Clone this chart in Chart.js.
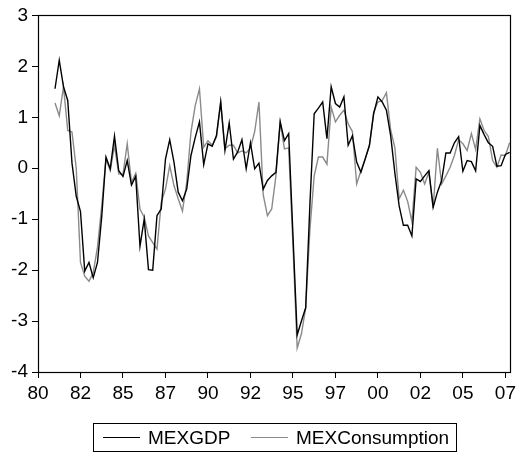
<!DOCTYPE html>
<html>
<head>
<meta charset="utf-8">
<script src="https://cdn.jsdelivr.net/npm/chart.js@4/dist/chart.umd.min.js"></script>
<style>
  html, body { margin: 0; padding: 0; background: #fff; }
  #wrap { position: relative; width: 520px; height: 455px; }
  #legend {
    position: absolute; left: 93px; top: 423px; width: 364px; height: 29px;
    border: 1px solid #000; box-sizing: border-box;
    font-family: "Liberation Sans", Arial, sans-serif; font-size: 19px; color: #000;
  }
  .item { position: absolute; top: 0; height: 27px; line-height: 27px; white-space: nowrap; }
  .swatch { position: absolute; top: 13px; width: 37px; height: 0; }
  .name { position: absolute; top: 0; }
</style>
</head>
<body>
<div id="wrap">
  <canvas id="c" width="520" height="455"></canvas>
  <div id="legend"></div>
</div>
<script>
// Quarterly observations, 1980Q1 .. 2007Q4
const startYear = 1980;
const quarters = [];
for (let y = startYear; y <= 2007; y++) {
  for (let q = 1; q <= 4; q++) quarters.push(y + 'Q' + q);
}

// Labels shown every 10 observations along the time axis
const xTickLabels = ['80', '82', '85', '87', '90', '92', '95', '97', '00', '02', '05', '07'];
const yTicks = [-4, -3, -2, -1, 0, 1, 2, 3];

const seriesNames = ['MEXGDP', 'MEXConsumption'];

const mexGDP = [
  null, null, null, null,
  1.56, 2.12, 1.60, 1.33, 0.10, -0.55, -0.85, -2.02,
  -1.85, -2.15, -1.85, -0.95, 0.22, -0.01, 0.63, -0.05,
  -0.16, 0.15, -0.33, -0.16, -1.53, -1.00, -1.99, -2.00,
  -0.93, -0.80, 0.18, 0.56, 0.12, -0.47, -0.64, -0.41,
  0.25, 0.60, 0.91, 0.07, 0.48, 0.43, 0.64, 1.30,
  0.35, 0.89, 0.18, 0.32, 0.56, -0.01, 0.50, -0.01,
  0.10, -0.41, -0.24, -0.15, -0.08, 0.91, 0.54, 0.68,
  -1.30, -3.27, -3.00, -2.74, -0.70, 1.07, 1.18, 1.30,
  0.58, 1.60, 1.27, 1.20, 1.40, 0.45, 0.64, 0.12,
  -0.08, 0.18, 0.45, 1.07, 1.40, 1.30, 1.14, 0.64,
  -0.10, -0.74, -1.12, -1.12, -1.33, -0.21, -0.26, -0.15,
  -0.05, -0.77, -0.47, -0.24, 0.30, 0.30, 0.50, 0.62,
  -0.06, 0.15, 0.13, -0.05, 0.84, 0.66, 0.50, 0.43,
  0.04, 0.05, 0.27, 0.31
];

const mexConsumption = [
  null, null, null, null,
  1.28, 1.03, 1.60, 0.74, 0.71, 0.00, -1.85, -2.12,
  -2.22, -2.05, -1.55, -0.74, 0.18, -0.05, 0.45, -0.11,
  -0.12, 0.48, -0.28, -0.10, -0.80, -0.96, -1.33, -1.46,
  -1.59, -0.67, -0.41, 0.05, -0.34, -0.60, -0.84, -0.28,
  0.71, 1.23, 1.56, 0.41, 0.54, 0.45, 0.61, 1.30,
  0.38, 0.45, 0.45, 0.30, 0.34, 0.30, 0.40, 0.72,
  1.30, -0.52, -0.93, -0.80, -0.15, 0.91, 0.38, 0.40,
  -1.50, -3.53, -3.25, -2.74, -1.20, -0.15, 0.22, 0.22,
  0.08, 1.20, 0.91, 1.04, 1.14, 0.87, 0.72, -0.31,
  -0.05, 0.18, 0.44, 1.10, 1.30, 1.33, 1.48, 0.75,
  0.40, -0.60, -0.43, -0.65, -1.05, 0.02, -0.08, -0.31,
  -0.08, -0.78, 0.39, -0.31, -0.15, 0.02, 0.25, 0.56,
  0.48, 0.35, 0.68, 0.37, 0.97, 0.74, 0.62, 0.15,
  0.02, 0.26, 0.25, 0.50
];

const seriesColors = ['#000000', '#8a8a8a'];
const FONT = { family: '"Liberation Sans", Arial, sans-serif', size: 19 };

// Box around the plotting area
const frame = {
  id: 'frame',
  afterDatasetsDraw(chart) {
    const a = chart.chartArea, ctx = chart.ctx;
    ctx.save();
    ctx.strokeStyle = '#000';
    ctx.lineWidth = 1.2;
    ctx.strokeRect(Math.round(a.left) + 0.5, Math.round(a.top) + 0.5,
                   Math.round(a.right - a.left), Math.round(a.bottom - a.top));
    ctx.restore();
  }
};

const chart = new Chart(document.getElementById('c'), {
  type: 'line',
  data: {
    labels: quarters,
    datasets: [
      { label: seriesNames[0], data: mexGDP, borderColor: seriesColors[0], borderWidth: 1.4 },
      { label: seriesNames[1], data: mexConsumption, borderColor: seriesColors[1], borderWidth: 1.4 }
    ]
  },
  options: {
    responsive: false,
    animation: false,
    layout: { padding: { left: 0, top: 15, right: 6, bottom: 53 } },
    elements: { point: { radius: 0 }, line: { tension: 0, fill: false } },
    plugins: { legend: { display: false }, tooltip: { enabled: false } },
    scales: {
      x: {
        type: 'category',
        offset: false,
        afterFit(s) { s.height = 30; },
        grid: { display: true, drawOnChartArea: false, drawTicks: true, tickLength: 6, color: '#000', lineWidth: 1 },
        border: { display: true, color: '#000', width: 1 },
        ticks: {
          autoSkip: false, maxRotation: 0, minRotation: 0, padding: 4,
          color: '#000', font: FONT,
          callback(v, i) { return i % 10 === 0 ? xTickLabels[i / 10] : null; }
        }
      },
      y: {
        min: yTicks[0], max: yTicks[yTicks.length - 1],
        afterFit(s) { s.width = 38; },
        afterBuildTicks(s) { s.ticks = yTicks.map(v => ({ value: v })); },
        grid: { display: true, drawOnChartArea: false, drawTicks: true, tickLength: 6, color: '#000', lineWidth: 1 },
        border: { display: true, color: '#000', width: 1 },
        ticks: { padding: 4, color: '#000', font: FONT }
      }
    }
  },
  plugins: [frame]
});

// Legend box under the chart, built from the dataset names and colours
const legend = document.getElementById('legend');
const pos = [{ line: 9, text: 54 }, { line: 157, text: 202 }];
seriesNames.forEach((n, k) => {
  const it = document.createElement('div');
  it.className = 'item';
  it.style.left = '0px';
  it.innerHTML = '<span class="swatch" style="left:' + pos[k].line + 'px;border-top:1px solid ' +
    seriesColors[k] + '"></span><span class="name" style="left:' + pos[k].text + 'px">' + n + '</span>';
  legend.appendChild(it);
});
</script>
</body>
</html>
